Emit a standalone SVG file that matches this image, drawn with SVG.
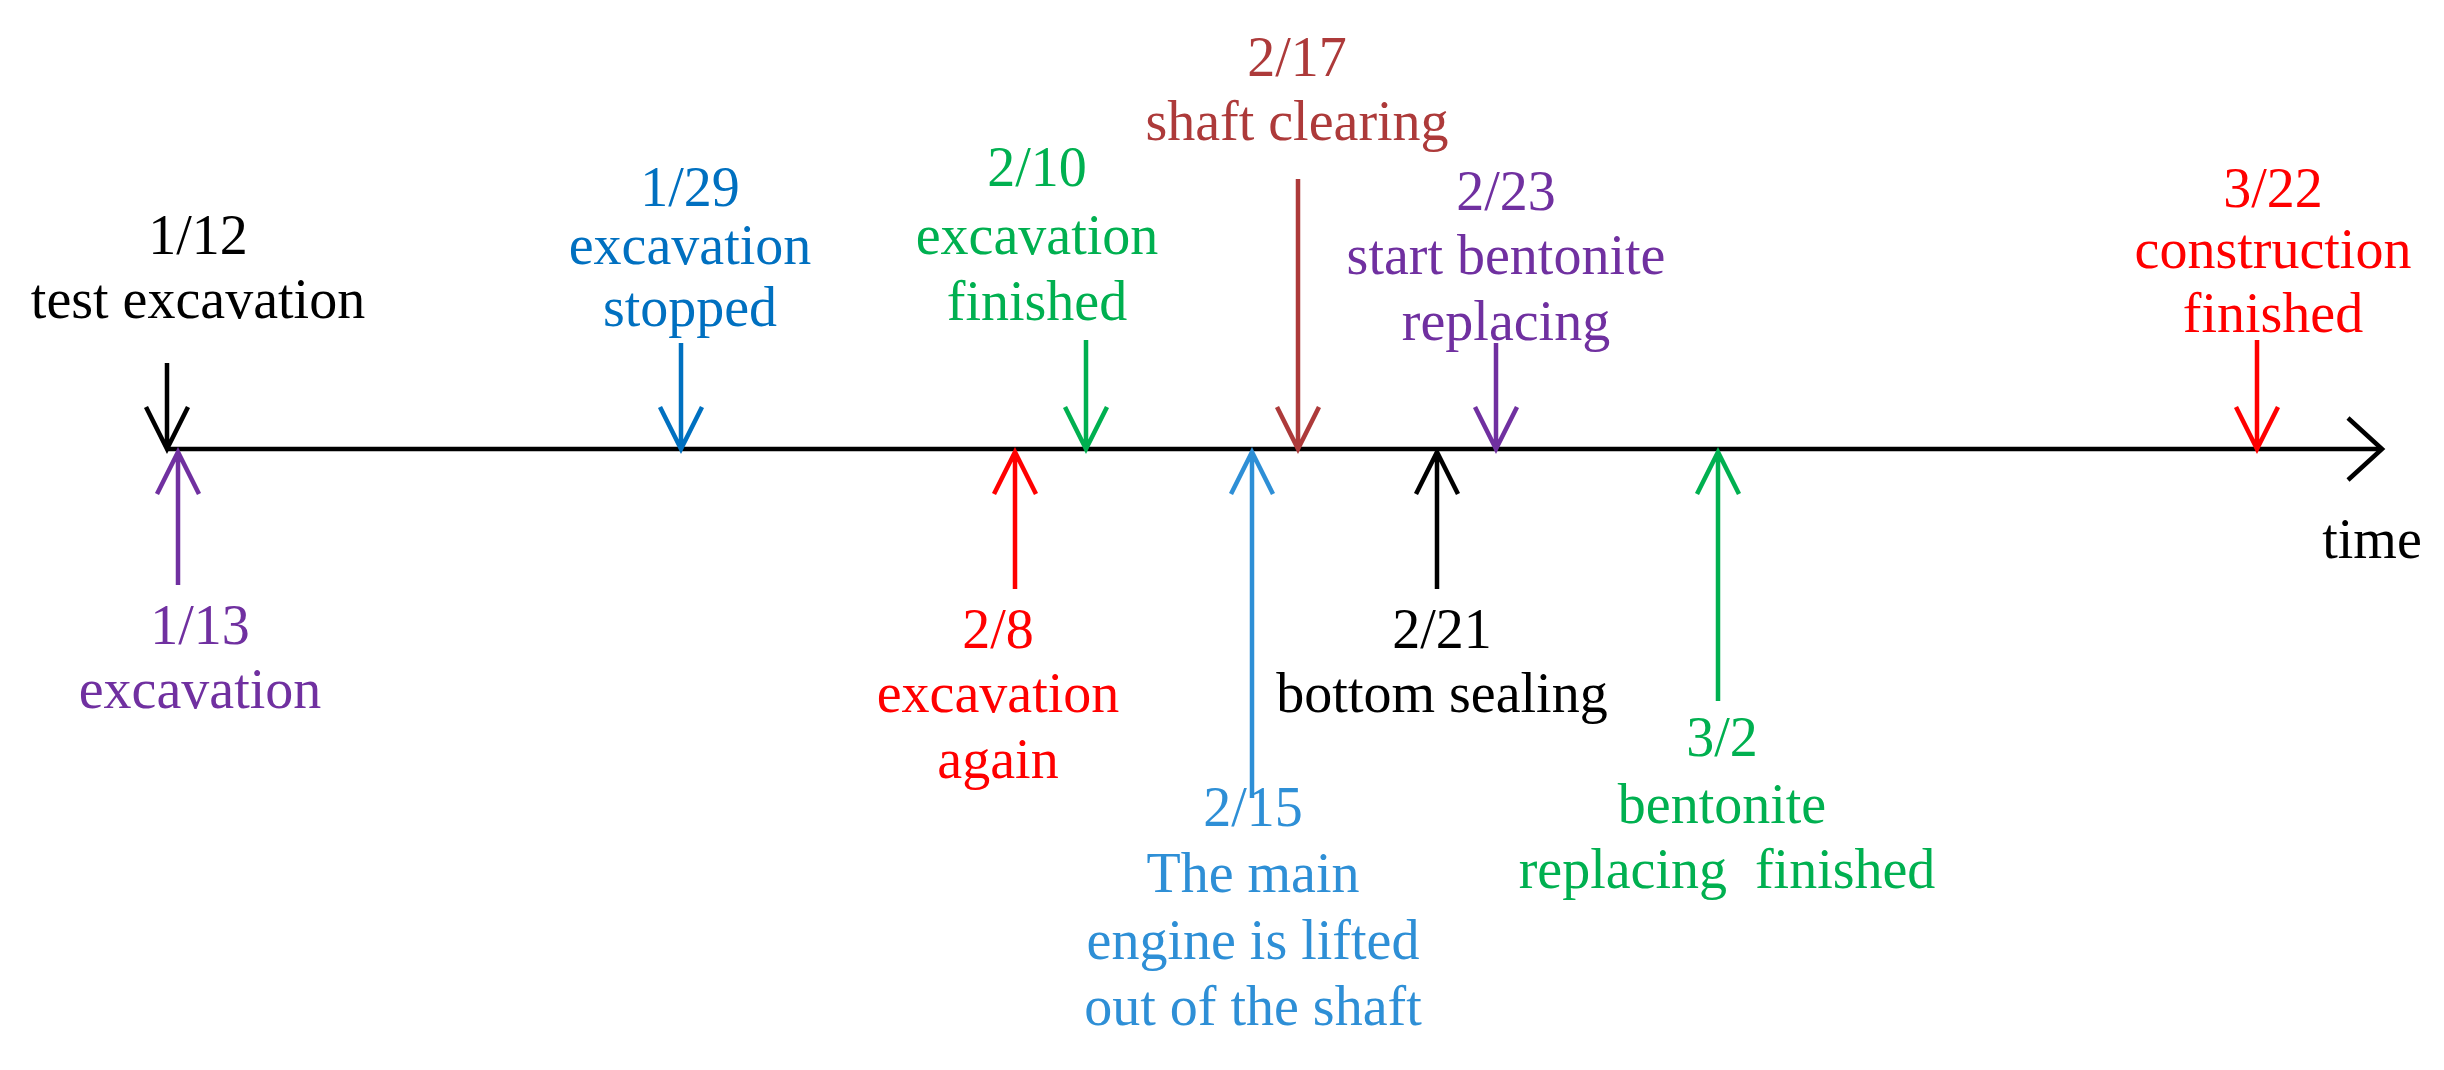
<svg xmlns="http://www.w3.org/2000/svg" width="2444" height="1070" viewBox="0 0 2444 1070">
<style>
text{font-family:"Liberation Serif","Times New Roman",serif;font-size:56px;text-anchor:middle}
.ar{fill:none;stroke-width:4.5;stroke-linejoin:miter}
</style>
<rect width="2444" height="1070" fill="#fff"/>
<g id="connectors">
<g id="axis" class="ar" stroke="#000"><path d="M167 449H2380"/><path d="M2348 418L2382 449L2348 480"/></g>
<path class="ar" stroke="#000" d="M167 363V449M146 407L167 449L188 407"/>
<path class="ar" stroke="#0070C0" d="M681 343V449M660 407L681 449L702 407"/>
<path class="ar" stroke="#00B050" d="M1086 340V449M1065 407L1086 449L1107 407"/>
<path class="ar" stroke="#AD3A3A" d="M1298 179V449M1277 407L1298 449L1319 407"/>
<path class="ar" stroke="#7030A0" d="M1496 343V449M1475 407L1496 449L1517 407"/>
<path class="ar" stroke="#FF0000" d="M2257 340V449M2236 407L2257 449L2278 407"/>
<path class="ar" stroke="#7030A0" d="M178 585V452M157 494L178 452L199 494"/>
<path class="ar" stroke="#FF0000" d="M1015 589V452M994 494L1015 452L1036 494"/>
<path class="ar" stroke="#2E8FD6" d="M1252 798V452M1231 494L1252 452L1273 494"/>
<path class="ar" stroke="#000" d="M1437 589V452M1416 494L1437 452L1458 494"/>
<path class="ar" stroke="#00B050" d="M1718 701V452M1697 494L1718 452L1739 494"/>
</g>
<g id="n112" fill="#000"><text x="198" y="254">1/12</text><text x="198" y="318">test excavation</text></g>
<g id="n129" fill="#0070C0"><text x="690" y="206">1/29</text><text x="690" y="264">excavation</text><text x="690" y="326">stopped</text></g>
<g id="n210" fill="#00B050"><text x="1037" y="186">2/10</text><text x="1037" y="254">excavation</text><text x="1037" y="320">finished</text></g>
<g id="n217" fill="#AD3A3A"><text x="1297" y="76">2/17</text><text x="1297" y="140">shaft clearing</text></g>
<g id="n223" fill="#7030A0"><text x="1506" y="210">2/23</text><text x="1506" y="274">start bentonite</text><text x="1506" y="340">replacing</text></g>
<g id="n322" fill="#FF0000"><text x="2273" y="207">3/22</text><text x="2273" y="268">construction</text><text x="2273" y="332">finished</text></g>
<g id="time"><text x="2372" y="558">time</text></g>
<g id="n113" fill="#7030A0"><text x="200" y="644">1/13</text><text x="200" y="708">excavation</text></g>
<g id="n28" fill="#FF0000"><text x="998" y="648">2/8</text><text x="998" y="712">excavation</text><text x="998" y="778">again</text></g>
<g id="n221" fill="#000"><text x="1442" y="648">2/21</text><text x="1442" y="712">bottom sealing</text></g>
<g id="n215" fill="#2E8FD6"><text x="1253" y="826">2/15</text><text x="1253" y="892">The main</text><text x="1253" y="959">engine is lifted</text><text x="1253" y="1025">out of the shaft</text></g>
<g id="n32" fill="#00B050"><text x="1722" y="756">3/2</text><text x="1722" y="823">bentonite</text><text x="1727" y="888" xml:space="preserve">replacing  finished</text></g>
</svg>
